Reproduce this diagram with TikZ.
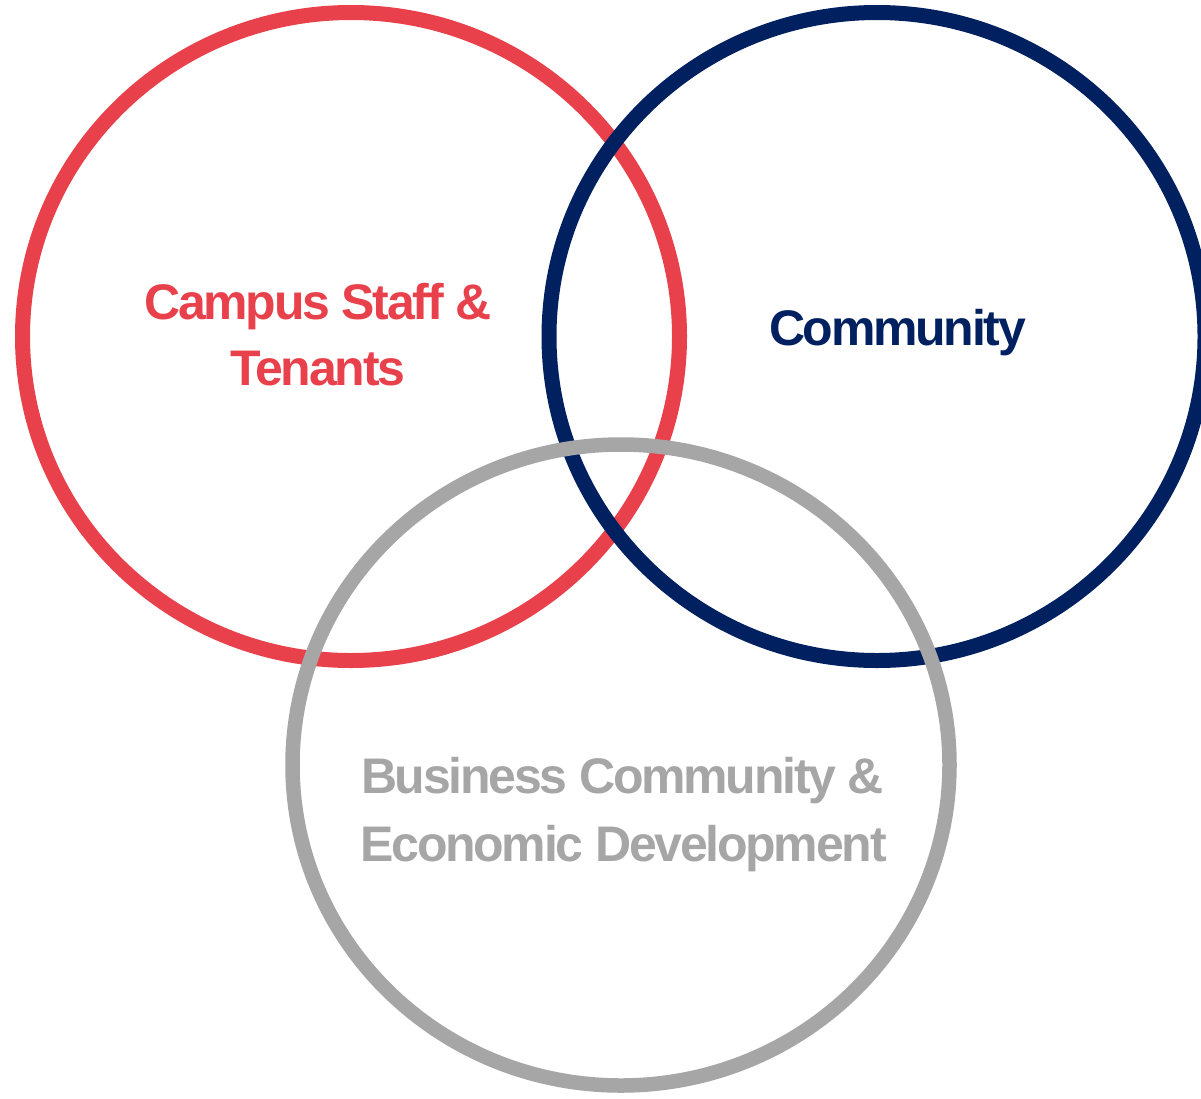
\documentclass[tikz,border=0pt]{standalone}
\usepackage{fontspec}
\newfontfamily\labfont{Liberation Sans}[LetterSpace=-4.5]
\definecolor{vred}{HTML}{E9414B}
\definecolor{vnavy}{HTML}{002060}
\definecolor{vgray}{HTML}{A6A6A6}
\begin{document}
\begin{tikzpicture}[x=1pt,y=-1pt,
  ring/.style={line width=15pt},
  lab/.style={anchor=base, inner sep=0pt, font=\labfont\bfseries\fontsize{50}{66}\selectfont}]
\useasboundingbox (0,0) rectangle (1201,1098);
\fill[white] (0,0) rectangle (1201,1098);
\draw[ring, vred] (351,336.5) ellipse [x radius=328.5pt, y radius=324pt];
\draw[ring, vnavy] (877,336.5) ellipse [x radius=328pt, y radius=324pt];
\draw[ring, vgray, line width=14.5pt] (621,765) ellipse [x radius=328.5pt, y radius=320.5pt];
\node[lab, text=vred] (campus1) at (318,319) {Campus Staff \&};
\node[lab, text=vred] (campus2) at (318,385) {Tenants};
\node[lab, text=vnavy] (comm) at (897.5,345) {Community};
\node[lab, text=vgray] (bus1) at (622.5,793) {Business Community \&};
\node[lab, text=vgray] (bus2) at (623.5,861) {Economic Development};
\end{tikzpicture}
\end{document}
